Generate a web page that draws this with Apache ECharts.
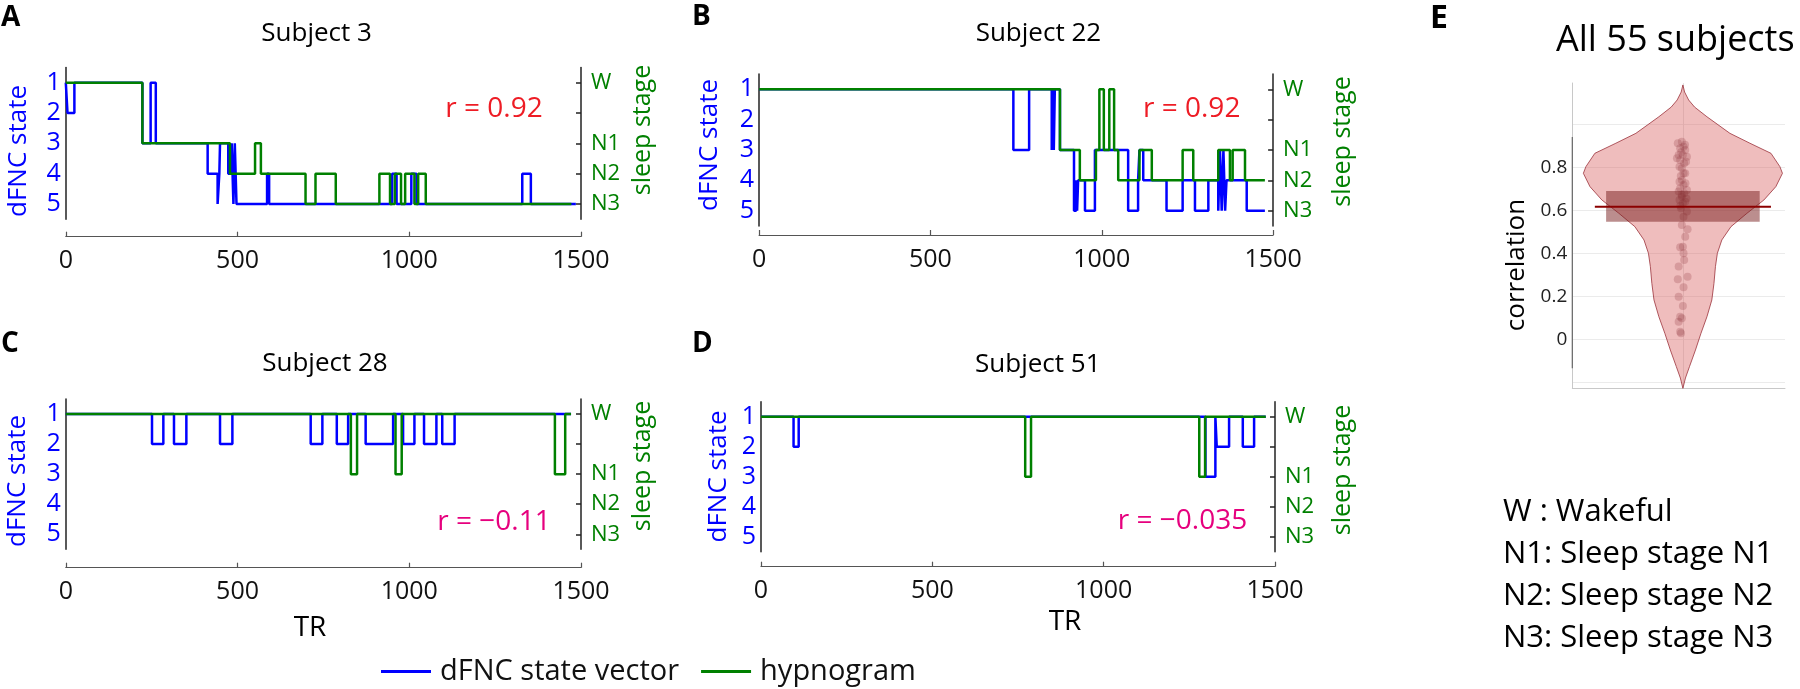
<!DOCTYPE html>
<html><head><meta charset="utf-8">
<script src="https://cdn.jsdelivr.net/npm/echarts@6/dist/echarts.min.js"></script>
<style>html,body{margin:0;padding:0;background:#fff}#c{width:1800px;height:689px}</style>
</head><body><div id="c"></div>
<script>
// ---------------- data ----------------
const xTicks = [0, 500, 1000, 1500];
const stateTicks = [1, 2, 3, 4, 5];
const stageTicks = [1, 3, 4, 5];
const stageNames = ['W', 'N1', 'N2', 'N3'];
const subjectTitles = ['Subject 3', 'Subject 22', 'Subject 28', 'Subject 51'];
const corrLabels = ['r = 0.92', 'r = 0.92', 'r = \u22120.11', 'r = \u22120.035'];
const panelLetters = ['A', 'B', 'C', 'D', 'E'];

// [TR, state] change points (step holds value until next point)
const dfncA = [[0,1],[5,2],[25,1],[223,3],[247,1],[262,3],[413,4],[442,5],[447,4],[449,3],[473,4],[483,3],[488,5],[492,3],[497,5],[586,4],[592,5],[950,4],[963,5],[1006,4],[1021,5],[1329,4],[1354,5],[1485,5]];
const hypnoA = [[0,1],[223,3],[478,4],[551,3],[568,4],[698,5],[727,4],[786,5],[913,4],[944,5],[958,4],[976,5],[988,4],[1015,5],[1026,4],[1048,5],[1472,5]];

const dfncB = [[0,1],[742,3],[788,1],[854,3],[857,1],[860,3],[863,1],[878,3],[919,5],[925,4],[928,5],[931,4],[951,5],[980,3],[1077,5],[1106,4],[1110,3],[1121,4],[1189,5],[1236,4],[1272,5],[1311,4],[1340,5],[1345,3],[1350,5],[1355,3],[1360,5],[1364,4],[1423,5],[1476,5]];
const hypnoB = [[0,1],[878,3],[936,4],[983,3],[993,1],[1006,3],[1022,1],[1036,3],[1048,4],[1110,3],[1146,4],[1236,3],[1267,4],[1340,3],[1374,4],[1382,3],[1418,4],[1476,4]];

const dfncC = [[0,1],[251,2],[284,1],[315,2],[351,1],[449,2],[485,1],[713,2],[747,1],[789,2],[822,1],[873,2],[953,1],[982,2],[1015,1],[1043,2],[1079,1],[1096,2],[1132,1],[1471,1]];
const hypnoC = [[0,1],[830,3],[848,1],[960,3],[978,1],[1424,3],[1454,1],[1471,1]];

const dfncD = [[0,1],[95,2],[110,1],[1297,3],[1326,1],[1330,2],[1366,1],[1406,2],[1439,1],[1473,1]];
const hypnoD = [[0,1],[771,3],[788,1],[1279,3],[1296,1],[1473,1]];

// panel E: correlations of all subjects
const corrValues = [0.919,0.912,0.896,0.888,0.880,0.857,0.857,0.849,0.842,0.834,0.819,0.803,0.795,0.772,0.772,0.741,0.733,0.718,0.702,0.694,0.687,0.679,0.663,0.648,0.640,0.633,0.609,0.594,0.570,0.532,0.512,0.477,0.431,0.428,0.400,0.369,0.338,0.291,0.279,0.242,0.198,0.155,0.105,0.098,0.082,0.035,0.028,0.905,0.870,0.826,0.760,0.726,0.672,0.655,0.621];
const corrJitter = [-0.005,-0.024,0.003,-0.013,0.011,-0.020,0,0.019,-0.028,-0.013,0.006,-0.016,-0.005,0.003,0.011,-0.005,-0.016,0.003,-0.013,0.019,-0.020,0.006,-0.005,-0.016,0.011,0,-0.009,0.019,0.003,-0.005,0.022,0.011,0,-0.013,0.003,0.006,-0.020,0.022,-0.024,0.003,-0.020,0,-0.013,-0.005,-0.020,-0.013,-0.009,0.010,-0.008,0.015,-0.010,0.012,-0.006,0.017,-0.012];
const violinLevels = [-0.228,-0.18,-0.127,-0.05,0.028,0.105,0.183,0.26,0.338,0.40,0.462,0.524,0.586,0.648,0.71,0.772,0.803,0.865,0.912,0.958,1.035,1.08,1.113,1.15,1.183];
const violinHalfWidth = [0,0.012,0.031,0.059,0.085,0.113,0.136,0.146,0.153,0.162,0.183,0.226,0.301,0.381,0.437,0.468,0.456,0.414,0.315,0.221,0.113,0.055,0.027,0.008,0];
const corrBox = [0.547, 0.690];
const corrMedian = [0.617];
const corrLabelTicks = [0, 0.2, 0.4, 0.6, 0.8];
const corrGridTicks = [-0.2, 0, 0.2, 0.4, 0.6, 0.8, 1.0];
const corrAxisSpan = [-0.135, 0.941];
const keyLines = ['W : Wakeful', 'N1: Sleep stage N1', 'N2: Sleep stage N2', 'N3: Sleep stage N3'];

// ---------------- layout / style ----------------
const FONT = '"Open Sans", "Noto Sans", sans-serif';
const BLUE = '#0000ff', GREEN = '#008000', RED = '#ee1c25', MAG = '#e6007e';
const panels = [
  { grid: {left: 65.8, top: 67.5, width: 515.2, height: 151.7}, xOff: 17.5, dfnc: dfncA, hyp: hypnoA },
  { grid: {left: 759.1, top: 74.1, width: 514, height: 151.8}, xOff: 9.1, dfnc: dfncB, hyp: hypnoB },
  { grid: {left: 65.8, top: 399, width: 515.2, height: 150.3}, xOff: 18.4, dfnc: dfncC, hyp: hypnoC },
  { grid: {left: 761, top: 401.7, width: 514, height: 150}, xOff: 15, dfnc: dfncD, hyp: hypnoD }
];
const violinX = 1, boxHalf = 0.361, medianHalf = 0.414;

const grids = [], xAxes = [], yAxes = [], series = [];
panels.forEach((p, i) => {
  grids.push(Object.assign({containLabel: false}, p.grid));
  xAxes.push({
    gridIndex: i, type: 'value', min: xTicks[0], max: xTicks[xTicks.length - 1], interval: 500, offset: p.xOff,
    axisLine: {show: true, onZero: false, lineStyle: {color: '#555', width: 1.2}},
    axisTick: {show: true, inside: true, length: 5, lineStyle: {color: '#555', width: 1.2}},
    axisLabel: {fontSize: 25, color: '#111', margin: 12, fontFamily: FONT, formatter: v => String(v)},
    splitLine: {show: false}
  });
});
panels.forEach((p, i) => {
  yAxes.push({
    gridIndex: i, type: 'value', min: 0.5, max: 5.5, inverse: true, position: 'left',
    axisLine: {show: true, onZero: false, lineStyle: {color: '#222', width: 1.5}},
    axisTick: {show: false, customValues: stateTicks},
    axisLabel: {customValues: stateTicks, color: BLUE, fontSize: 25, margin: 5, fontFamily: FONT},
    splitLine: {show: false}
  });
});
panels.forEach((p, i) => {
  yAxes.push({
    gridIndex: i, type: 'value', min: 0.5, max: 5.5, inverse: true, position: 'right',
    axisLine: {show: true, onZero: false, lineStyle: {color: '#222', width: 1.5}},
    axisTick: {show: true, inside: true, length: 5, customValues: stateTicks, lineStyle: {color: '#222', width: 1.5}},
    axisLabel: {customValues: stageTicks, formatter: v => stageNames[stageTicks.indexOf(Math.round(v))] || '',
                color: GREEN, fontSize: 22, margin: 10, fontFamily: FONT},
    splitLine: {show: false}
  });
});
panels.forEach((p, i) => {
  series.push({
    type: 'line', name: 'dFNC state vector', xAxisIndex: i, yAxisIndex: i, data: p.dfnc, step: 'end',
    showSymbol: false, symbol: 'none', silent: true, z: 2,
    lineStyle: {color: BLUE, width: 2.5}, itemStyle: {color: BLUE}
  });
  series.push({
    type: 'line', name: 'hypnogram', xAxisIndex: i, yAxisIndex: i + 4, data: p.hyp, step: 'end',
    showSymbol: false, symbol: 'none', silent: true, z: 3,
    lineStyle: {color: GREEN, width: 2.5}, itemStyle: {color: GREEN}
  });
});

// panel E
grids.push({left: 1572.3, top: 83, width: 212.7, height: 305, containLabel: false});
xAxes.push({
  gridIndex: 4, type: 'value', min: 0.48, max: 1.48,
  axisLine: {show: true, onZero: false, lineStyle: {color: '#c8c8c8', width: 1}},
  axisTick: {show: false, customValues: [violinX]},
  axisLabel: {show: false},
  splitLine: {show: true, lineStyle: {color: '#e4e4e4', width: 1}}
});
yAxes.push({
  gridIndex: 4, type: 'value', min: -0.2265, max: 1.192,
  axisLine: {show: true, onZero: false, lineStyle: {color: '#c8c8c8', width: 1}},
  axisTick: {show: false, customValues: corrGridTicks},
  axisLabel: {customValues: corrLabelTicks, fontSize: 19, color: '#222', margin: 5, fontFamily: FONT,
              formatter: v => String(Math.round(v * 10) / 10)},
  splitLine: {show: true, lineStyle: {color: '#ebebeb', width: 1}}
});
series.push({
  type: 'custom', xAxisIndex: 4, yAxisIndex: 8, silent: true, z: 1, data: [[0.48, corrAxisSpan[0]]],
  renderItem: (params, api) => {
    const a = api.coord([0.48, corrAxisSpan[0]]), b = api.coord([0.48, corrAxisSpan[1]]);
    return {type: 'line', shape: {x1: a[0], y1: a[1], x2: b[0], y2: b[1]}, style: {stroke: '#666', lineWidth: 1.2}};
  }
});
series.push({
  type: 'custom', xAxisIndex: 4, yAxisIndex: 8, silent: true, z: 2, data: [[violinX, corrMedian[0]]],
  renderItem: (params, api) => {
    const pts = [];
    for (let k = 0; k < violinLevels.length; k++) pts.push(api.coord([violinX + violinHalfWidth[k], violinLevels[k]]));
    for (let k = violinLevels.length - 1; k >= 0; k--) pts.push(api.coord([violinX - violinHalfWidth[k], violinLevels[k]]));
    return {type: 'polygon', shape: {points: pts}, style: {fill: 'rgba(215,90,90,0.4)', stroke: 'rgba(150,40,50,0.75)', lineWidth: 1}};
  }
});
series.push({
  type: 'scatter', xAxisIndex: 4, yAxisIndex: 8, silent: true, z: 3, symbolSize: 8,
  data: corrValues.map((v, k) => [violinX + corrJitter[k], v]),
  itemStyle: {color: 'rgba(150,60,70,0.33)'}
});
series.push({
  type: 'custom', xAxisIndex: 4, yAxisIndex: 8, silent: true, z: 4, data: [[violinX, corrMedian[0]]],
  renderItem: (params, api) => {
    const a = api.coord([violinX - boxHalf, corrBox[1]]), b = api.coord([violinX + boxHalf, corrBox[0]]);
    const m1 = api.coord([violinX - medianHalf, corrMedian[0]]), m2 = api.coord([violinX + medianHalf, corrMedian[0]]);
    return {type: 'group', children: [
      {type: 'rect', shape: {x: a[0], y: a[1], width: b[0] - a[0], height: b[1] - a[1]}, style: {fill: 'rgba(120,30,30,0.5)'}},
      {type: 'line', shape: {x1: m1[0], y1: m1[1], x2: m2[0], y2: m2[1]}, style: {stroke: '#8b0000', lineWidth: 2}}
    ]};
  }
});

// ---------------- texts ----------------
function txt(str, x, y, size, color, o) {
  o = o || {};
  return {type: 'text', x: x, y: y, rotation: o.rot || 0, silent: true, z: 10,
    style: {text: str, fill: color, font: (o.bold ? 'bold ' : '') + size + 'px ' + FONT,
            align: o.align || 'center', verticalAlign: 'middle'}};
}
const R = Math.PI / 2;
const graphics = [
  txt(panelLetters[0], 1, 18.3, 28, '#000', {bold: true, align: 'left'}),
  txt(panelLetters[1], 692, 16.7, 28, '#000', {bold: true, align: 'left'}),
  txt(panelLetters[2], 1, 344.5, 28, '#000', {bold: true, align: 'left'}),
  txt(panelLetters[3], 692, 344.5, 28, '#000', {bold: true, align: 'left'}),
  txt(panelLetters[4], 1430, 18.5, 32, '#000', {bold: true, align: 'left'}),
  txt(subjectTitles[0], 316.6, 33.8, 26, '#000'),
  txt(subjectTitles[1], 1038.4, 33.8, 26, '#000'),
  txt(subjectTitles[2], 325, 364, 26, '#000'),
  txt(subjectTitles[3], 1037.8, 364.5, 26, '#000'),
  txt('All 55 subjects', 1556, 40.8, 36, '#000', {align: 'left'}),
  txt(corrLabels[0], 494, 109.3, 28, RED),
  txt(corrLabels[1], 1191.7, 109.3, 28, RED),
  txt(corrLabels[2], 494, 521.7, 28, MAG),
  txt(corrLabels[3], 1182.5, 521, 28, MAG),
  txt('TR', 310, 628.3, 28, '#000'),
  txt('TR', 1065, 621.7, 28, '#000'),
  txt('dFNC state', 19, 151, 26, BLUE, {rot: R}),
  txt('dFNC state', 709.5, 145, 26, BLUE, {rot: R}),
  txt('dFNC state', 17.5, 481, 26, BLUE, {rot: R}),
  txt('dFNC state', 718.5, 476.5, 26, BLUE, {rot: R}),
  txt('sleep stage', 643, 130, 25, GREEN, {rot: R}),
  txt('sleep stage', 1343, 141.5, 25, GREEN, {rot: R}),
  txt('sleep stage', 643, 466, 25, GREEN, {rot: R}),
  txt('sleep stage', 1343, 470, 25, GREEN, {rot: R}),
  txt('correlation', 1517, 265, 26, '#000', {rot: R})
];
const keyY = [511.7, 554, 596.3, 638.3];
keyLines.forEach((s, k) => graphics.push(txt(s, 1503, keyY[k], 31, '#000', {align: 'left'})));

const chart = echarts.init(document.getElementById('c'), null, {renderer: 'canvas'});
chart.setOption({
  animation: false,
  backgroundColor: '#fff',
  textStyle: {fontFamily: FONT},
  grid: grids, xAxis: xAxes, yAxis: yAxes, series: series,
  legend: {
    left: 376, top: 652, itemWidth: 50, itemHeight: 3, itemGap: 22, icon: 'rect', selectedMode: false,
    data: ['dFNC state vector', 'hypnogram'],
    textStyle: {fontSize: 29, fontFamily: FONT, color: '#111', padding: [0, 0, 0, 4]}
  },
  graphic: graphics
});
</script></body></html>
